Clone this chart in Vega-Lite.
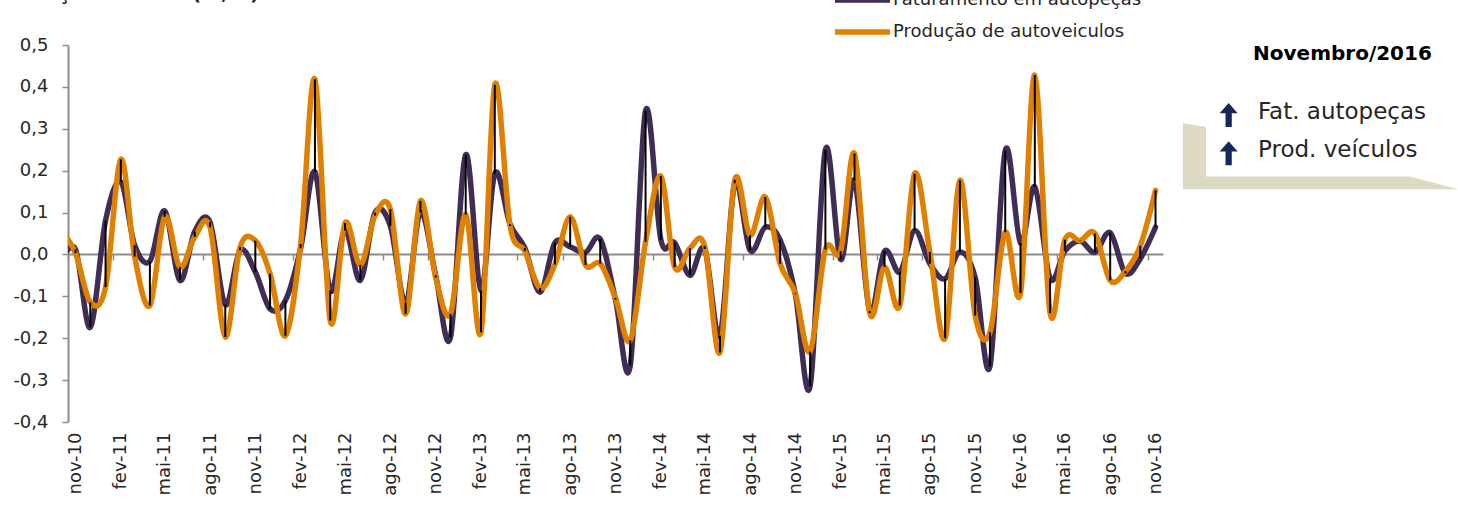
{
  "$schema": "https://vega.github.io/schema/vega-lite/v6.json",
  "width": 1095,
  "height": 377,
  "autosize": {"type": "none"},
  "padding": {"left": 68, "top": 45, "right": 295, "bottom": 86},
  "background": "white",
  "config": {
    "view": {"stroke": null},
    "font": "DejaVu Sans",
    "locale": {
      "number": {"decimal": ",", "thousands": ".", "grouping": [3], "currency": ["R$", ""], "minus": "-"}
    }
  },
  "datasets": {
    "mensal": [
      {"mes": "2010-10-01", "Faturamento em autopeças": -0.02, "Produção de autoveiculos": 0.06},
      {"mes": "2010-11-01", "Faturamento em autopeças": 0.012, "Produção de autoveiculos": 0.003},
      {"mes": "2010-12-01", "Faturamento em autopeças": -0.174, "Produção de autoveiculos": -0.114},
      {"mes": "2011-01-01", "Faturamento em autopeças": 0.081, "Produção de autoveiculos": -0.078},
      {"mes": "2011-02-01", "Faturamento em autopeças": 0.173, "Produção de autoveiculos": 0.227},
      {"mes": "2011-03-01", "Faturamento em autopeças": 0.022, "Produção de autoveiculos": -0.005},
      {"mes": "2011-04-01", "Faturamento em autopeças": -0.016, "Produção de autoveiculos": -0.122},
      {"mes": "2011-05-01", "Faturamento em autopeças": 0.104, "Produção de autoveiculos": 0.09},
      {"mes": "2011-06-01", "Faturamento em autopeças": -0.062, "Produção de autoveiculos": -0.03},
      {"mes": "2011-07-01", "Faturamento em autopeças": 0.055, "Produção de autoveiculos": 0.042},
      {"mes": "2011-08-01", "Faturamento em autopeças": 0.077, "Produção de autoveiculos": 0.065},
      {"mes": "2011-09-01", "Faturamento em autopeças": -0.12, "Produção de autoveiculos": -0.197},
      {"mes": "2011-10-01", "Faturamento em autopeças": 0.01, "Produção de autoveiculos": 0.017},
      {"mes": "2011-11-01", "Faturamento em autopeças": -0.042, "Produção de autoveiculos": 0.033},
      {"mes": "2011-12-01", "Faturamento em autopeças": -0.13, "Produção de autoveiculos": -0.046},
      {"mes": "2012-01-01", "Faturamento em autopeças": -0.11, "Produção de autoveiculos": -0.194},
      {"mes": "2012-02-01", "Faturamento em autopeças": 0.015, "Produção de autoveiculos": 0.025},
      {"mes": "2012-03-01", "Faturamento em autopeças": 0.197, "Produção de autoveiculos": 0.418},
      {"mes": "2012-04-01", "Faturamento em autopeças": -0.086, "Produção de autoveiculos": -0.158},
      {"mes": "2012-05-01", "Faturamento em autopeças": 0.057, "Produção de autoveiculos": 0.075},
      {"mes": "2012-06-01", "Faturamento em autopeças": -0.062, "Produção de autoveiculos": -0.025},
      {"mes": "2012-07-01", "Faturamento em autopeças": 0.1, "Produção de autoveiculos": 0.093},
      {"mes": "2012-08-01", "Faturamento em autopeças": 0.068, "Produção de autoveiculos": 0.108},
      {"mes": "2012-09-01", "Faturamento em autopeças": -0.115, "Produção de autoveiculos": -0.142},
      {"mes": "2012-10-01", "Faturamento em autopeças": 0.101, "Produção de autoveiculos": 0.128},
      {"mes": "2012-11-01", "Faturamento em autopeças": -0.05, "Produção de autoveiculos": -0.055},
      {"mes": "2012-12-01", "Faturamento em autopeças": -0.198, "Produção de autoveiculos": -0.142},
      {"mes": "2013-01-01", "Faturamento em autopeças": 0.238, "Produção de autoveiculos": 0.095},
      {"mes": "2013-02-01", "Faturamento em autopeças": -0.086, "Produção de autoveiculos": -0.186},
      {"mes": "2013-03-01", "Faturamento em autopeças": 0.193, "Produção de autoveiculos": 0.405},
      {"mes": "2013-04-01", "Faturamento em autopeças": 0.072, "Produção de autoveiculos": 0.068},
      {"mes": "2013-05-01", "Faturamento em autopeças": 0.015, "Produção de autoveiculos": 0.008},
      {"mes": "2013-06-01", "Faturamento em autopeças": -0.09, "Produção de autoveiculos": -0.08},
      {"mes": "2013-07-01", "Faturamento em autopeças": 0.028, "Produção de autoveiculos": -0.024},
      {"mes": "2013-08-01", "Faturamento em autopeças": 0.018, "Produção de autoveiculos": 0.09},
      {"mes": "2013-09-01", "Faturamento em autopeças": 0.005, "Produção de autoveiculos": -0.025},
      {"mes": "2013-10-01", "Faturamento em autopeças": 0.037, "Produção de autoveiculos": -0.022},
      {"mes": "2013-11-01", "Faturamento em autopeças": -0.108, "Produção de autoveiculos": -0.104},
      {"mes": "2013-12-01", "Faturamento em autopeças": -0.265, "Produção de autoveiculos": -0.205},
      {"mes": "2014-01-01", "Faturamento em autopeças": 0.343, "Produção de autoveiculos": 0.03},
      {"mes": "2014-02-01", "Faturamento em autopeças": 0.035, "Produção de autoveiculos": 0.187},
      {"mes": "2014-03-01", "Faturamento em autopeças": 0.028, "Produção de autoveiculos": -0.03},
      {"mes": "2014-04-01", "Faturamento em autopeças": -0.05, "Produção de autoveiculos": 0.015},
      {"mes": "2014-05-01", "Faturamento em autopeças": 0.013, "Produção de autoveiculos": 0.02},
      {"mes": "2014-06-01", "Faturamento em autopeças": -0.194, "Produção de autoveiculos": -0.234},
      {"mes": "2014-07-01", "Faturamento em autopeças": 0.17, "Produção de autoveiculos": 0.178},
      {"mes": "2014-08-01", "Faturamento em autopeças": 0.01, "Produção de autoveiculos": 0.046},
      {"mes": "2014-09-01", "Faturamento em autopeças": 0.065, "Produção de autoveiculos": 0.137},
      {"mes": "2014-10-01", "Faturamento em autopeças": 0.035, "Produção de autoveiculos": -0.022},
      {"mes": "2014-11-01", "Faturamento em autopeças": -0.095, "Produção de autoveiculos": -0.093},
      {"mes": "2014-12-01", "Faturamento em autopeças": -0.315, "Produção de autoveiculos": -0.232},
      {"mes": "2015-01-01", "Faturamento em autopeças": 0.25, "Produção de autoveiculos": 0.012},
      {"mes": "2015-02-01", "Faturamento em autopeças": -0.012, "Produção de autoveiculos": 0.008},
      {"mes": "2015-03-01", "Faturamento em autopeças": 0.177, "Produção de autoveiculos": 0.241},
      {"mes": "2015-04-01", "Faturamento em autopeças": -0.135, "Produção de autoveiculos": -0.14},
      {"mes": "2015-05-01", "Faturamento em autopeças": 0.008, "Produção de autoveiculos": -0.03},
      {"mes": "2015-06-01", "Faturamento em autopeças": -0.042, "Produção de autoveiculos": -0.122},
      {"mes": "2015-07-01", "Faturamento em autopeças": 0.057, "Produção de autoveiculos": 0.193},
      {"mes": "2015-08-01", "Faturamento em autopeças": -0.022, "Produção de autoveiculos": 0.006},
      {"mes": "2015-09-01", "Faturamento em autopeças": -0.058, "Produção de autoveiculos": -0.2},
      {"mes": "2015-10-01", "Faturamento em autopeças": 0.006, "Produção de autoveiculos": 0.177},
      {"mes": "2015-11-01", "Faturamento em autopeças": -0.055, "Produção de autoveiculos": -0.146},
      {"mes": "2015-12-01", "Faturamento em autopeças": -0.267, "Produção de autoveiculos": -0.186},
      {"mes": "2016-01-01", "Faturamento em autopeças": 0.248, "Produção de autoveiculos": 0.053},
      {"mes": "2016-02-01", "Faturamento em autopeças": 0.027, "Produção de autoveiculos": -0.092},
      {"mes": "2016-03-01", "Faturamento em autopeças": 0.161, "Produção de autoveiculos": 0.428},
      {"mes": "2016-04-01", "Faturamento em autopeças": -0.057, "Produção de autoveiculos": -0.14},
      {"mes": "2016-05-01", "Faturamento em autopeças": 0.008, "Produção de autoveiculos": 0.035},
      {"mes": "2016-06-01", "Faturamento em autopeças": 0.032, "Produção de autoveiculos": 0.033},
      {"mes": "2016-07-01", "Faturamento em autopeças": 0.005, "Produção de autoveiculos": 0.05},
      {"mes": "2016-08-01", "Faturamento em autopeças": 0.052, "Produção de autoveiculos": -0.062},
      {"mes": "2016-09-01", "Faturamento em autopeças": -0.045, "Produção de autoveiculos": -0.04},
      {"mes": "2016-10-01", "Faturamento em autopeças": -0.01, "Produção de autoveiculos": 0.02},
      {"mes": "2016-11-01", "Faturamento em autopeças": 0.065, "Produção de autoveiculos": 0.153}
    ]
  },
  "layer": [
    {
      "data": {"name": "mensal"},
      "encoding": {
        "x": {
          "field": "mes", "type": "temporal", "title": null,
          "scale": {"type": "utc", "domain": [{"year": 2010, "month": 10, "date": 16, "hours": 19, "utc": true}, {"year": 2016, "month": 11, "date": 16, "hours": 5, "utc": true}]},
          "axis": {
            "orient": "bottom", "offset": -168,
            "labelExpr": "['jan','fev','mar','abr','mai','jun','jul','ago','set','out','nov','dez'][utcmonth(datum.value)] + '-' + utcFormat(datum.value, '%y')",
            "values": [
              {"year": 2010, "month": 11, "date": 1, "utc": true}, {"year": 2011, "month": 2, "date": 1, "utc": true}, {"year": 2011, "month": 5, "date": 1, "utc": true}, {"year": 2011, "month": 8, "date": 1, "utc": true},
              {"year": 2011, "month": 11, "date": 1, "utc": true}, {"year": 2012, "month": 2, "date": 1, "utc": true}, {"year": 2012, "month": 5, "date": 1, "utc": true}, {"year": 2012, "month": 8, "date": 1, "utc": true},
              {"year": 2012, "month": 11, "date": 1, "utc": true}, {"year": 2013, "month": 2, "date": 1, "utc": true}, {"year": 2013, "month": 5, "date": 1, "utc": true}, {"year": 2013, "month": 8, "date": 1, "utc": true},
              {"year": 2013, "month": 11, "date": 1, "utc": true}, {"year": 2014, "month": 2, "date": 1, "utc": true}, {"year": 2014, "month": 5, "date": 1, "utc": true}, {"year": 2014, "month": 8, "date": 1, "utc": true},
              {"year": 2014, "month": 11, "date": 1, "utc": true}, {"year": 2015, "month": 2, "date": 1, "utc": true}, {"year": 2015, "month": 5, "date": 1, "utc": true}, {"year": 2015, "month": 8, "date": 1, "utc": true},
              {"year": 2015, "month": 11, "date": 1, "utc": true}, {"year": 2016, "month": 2, "date": 1, "utc": true}, {"year": 2016, "month": 5, "date": 1, "utc": true}, {"year": 2016, "month": 8, "date": 1, "utc": true},
              {"year": 2016, "month": 11, "date": 1, "utc": true}
            ],
            "grid": false, "domainColor": "#8C8C8C", "domainWidth": 2, "tickColor": "#8C8C8C", "tickWidth": 1.5, "tickSize": 6,
            "tickOffset": -7.5, "labelOffset": 7.5, "labelAngle": -90, "labelAlign": "right", "labelBaseline": "middle",
            "labelPadding": 172, "labelFontSize": 18, "labelFont": "DejaVu Sans", "labelColor": "#262626",
            "labelOverlap": false, "labelFlush": false, "labelBound": false
          }
        }
      },
      "layer": [
        {
          "transform": [{"fold": ["Faturamento em autopeças", "Produção de autoveiculos"], "as": ["serie", "valor"]}],
          "mark": {"type": "line", "interpolate": "cardinal", "tension": 0, "strokeWidth": 5.5, "strokeCap": "round", "strokeJoin": "round", "clip": true},
          "encoding": {
            "y": {
              "field": "valor", "type": "quantitative", "title": null,
              "scale": {"domain": [-0.4, 0.5], "nice": false, "zero": false},
              "axis": {
                "values": [-0.4, -0.3, -0.2, -0.1, 0, 0.1, 0.2, 0.3, 0.4, 0.5], "format": ".1f", "grid": false,
                "domainColor": "#8C8C8C", "domainWidth": 2, "tickColor": "#8C8C8C", "tickWidth": 1.5, "tickSize": 6,
                "labelFontSize": 18, "labelFont": "DejaVu Sans", "labelColor": "#262626", "labelPadding": 14
              }
            },
            "color": {
              "field": "serie", "type": "nominal",
              "scale": {"domain": ["Faturamento em autopeças", "Produção de autoveiculos"], "range": ["#402D55", "#E08000"]},
              "legend": {
                "orient": "none", "legendX": 764, "legendY": -55, "direction": "vertical", "title": null,
                "symbolType": "stroke", "symbolSize": 3025, "symbolStrokeWidth": 5.5, "clipHeight": 20,
                "labelFontSize": 18, "labelFont": "DejaVu Sans", "labelColor": "#262626", "labelOffset": 0, "labelLimit": 0, "rowPadding": 12
              }
            }
          }
        },
        {
          "mark": {"type": "rule", "color": "#000000", "strokeWidth": 2, "clip": true},
          "encoding": {
            "y": {"field": "Faturamento em autopeças", "type": "quantitative", "title": null},
            "y2": {"field": "Produção de autoveiculos"}
          }
        }
      ]
    },
    {
      "data": {"values": [{}]},
      "layer": [
        {
          "mark": {"type": "point", "shape": "M-1,-0.24L-0.833,-0.211L-0.833,0.15L0.651,0.15L1,0.242L-1,0.242Z", "size": 75625, "filled": true, "color": "#DDD9C3", "opacity": 1, "strokeWidth": 0},
          "encoding": {
            "x": {"datum": 50, "type": "quantitative", "scale": {"domain": [0, 100], "range": [1115, 1390]}, "axis": null},
            "y": {"datum": 29.44, "type": "quantitative", "scale": {"domain": [0, 100], "range": [0, 377]}, "axis": null}
          }
        },
        {
          "mark": {"type": "text", "text": "Variação mensal (m/m)", "font": "DejaVu Sans", "fontSize": 20, "fontWeight": "bold", "align": "left", "baseline": "alphabetic", "color": "#262626"},
          "encoding": {
            "x": {"datum": -430.2, "type": "quantitative"},
            "y": {"datum": -12.0, "type": "quantitative"}
          }
        },
        {
          "mark": {"type": "text", "text": "Novembro/2016", "font": "DejaVu Sans", "fontSize": 20, "fontWeight": "bold", "align": "right", "baseline": "alphabetic", "color": "#000000"},
          "encoding": {
            "x": {"datum": 90.5, "type": "quantitative"},
            "y": {"datum": 3.85, "type": "quantitative"}
          }
        },
        {
          "mark": {"type": "point", "shape": "M0,-1L0.75,-0.15L0.26,-0.15L0.26,1L-0.26,1L-0.26,-0.15L-0.75,-0.15Z", "size": 576, "filled": true, "color": "#14285A", "opacity": 1, "strokeWidth": 0},
          "encoding": {
            "x": {"datum": 16.6, "type": "quantitative"},
            "y": {"datum": 18.6, "type": "quantitative"}
          }
        },
        {
          "mark": {"type": "point", "shape": "M0,-1L0.75,-0.15L0.26,-0.15L0.26,1L-0.26,1L-0.26,-0.15L-0.75,-0.15Z", "size": 576, "filled": true, "color": "#14285A", "opacity": 1, "strokeWidth": 0},
          "encoding": {
            "x": {"datum": 16.6, "type": "quantitative"},
            "y": {"datum": 28.7, "type": "quantitative"}
          }
        },
        {
          "mark": {"type": "text", "text": "Fat. autopeças", "font": "DejaVu Sans", "fontSize": 23, "align": "left", "baseline": "alphabetic", "color": "#262626"},
          "encoding": {
            "x": {"datum": 27.27, "type": "quantitative"},
            "y": {"datum": 19.71, "type": "quantitative"}
          }
        },
        {
          "mark": {"type": "text", "text": "Prod. veículos", "font": "DejaVu Sans", "fontSize": 23, "align": "left", "baseline": "alphabetic", "color": "#262626"},
          "encoding": {
            "x": {"datum": 27.27, "type": "quantitative"},
            "y": {"datum": 29.63, "type": "quantitative"}
          }
        }
      ]
    }
  ],
  "resolve": {"scale": {"x": "independent", "y": "independent"}}
}
